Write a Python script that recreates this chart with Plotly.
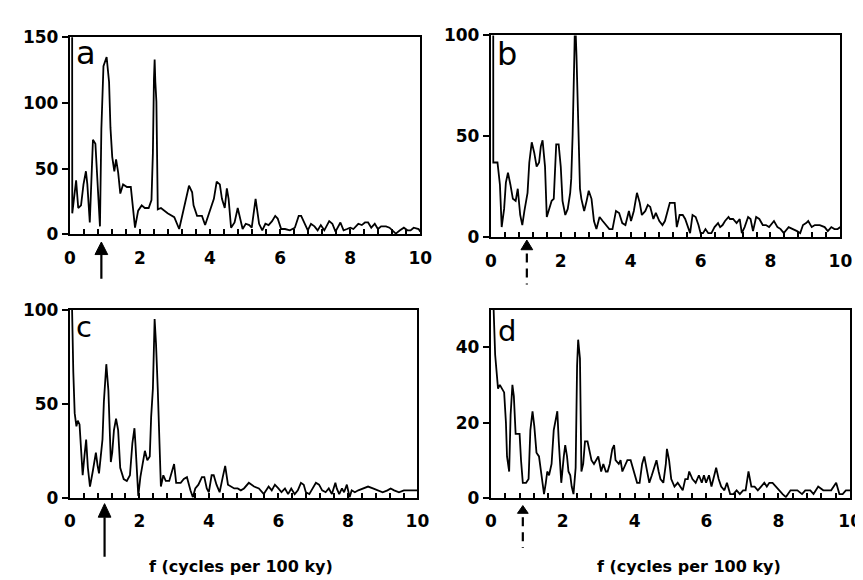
import plotly.graph_objects as go

W, H = 863, 580

# ---------------- data ----------------
f_a = [0, 0.07, 0.18, 0.24, 0.32, 0.39, 0.46, 0.5, 0.57, 0.62, 0.66, 0.73, 0.78, 0.86, 0.9, 0.96, 1.05, 1.12, 1.16, 1.21,
       1.27, 1.32, 1.38, 1.44, 1.52, 1.63, 1.74, 1.86, 1.95, 2.05, 2.14, 2.25, 2.33, 2.37, 2.4, 2.42, 2.44, 2.47, 2.51, 2.6,
       2.79, 2.98, 3.12, 3.26, 3.4, 3.49, 3.53, 3.63, 3.77, 3.86, 4.0, 4.11, 4.19, 4.28, 4.34, 4.42, 4.48, 4.53, 4.6, 4.7,
       4.79, 4.88, 4.93, 5.02, 5.12, 5.19, 5.3, 5.4, 5.49, 5.58, 5.67, 5.77, 5.86, 5.93, 6.03, 6.14, 6.28, 6.42, 6.53, 6.6,
       6.7, 6.79, 6.88, 6.98, 7.07, 7.16, 7.26, 7.4, 7.49, 7.58, 7.72, 7.81, 7.91, 8.0, 8.09, 8.23, 8.33, 8.42, 8.51, 8.6,
       8.7, 8.79, 8.88, 9.02, 9.12, 9.21, 9.3, 9.42, 9.53, 9.63, 9.72, 9.81, 9.95, 10]
p_a = [3000, 16, 41, 20, 22, 38, 48, 38, 9, 50, 72, 69, 46, 6, 80, 128, 135, 116, 81, 59,
       48, 57, 47, 31, 38, 36, 36, 5, 18, 22, 20, 20, 26, 62, 118, 133, 116, 101, 19, 20,
       16, 13, 4, 20, 37, 32, 22, 14, 14, 7, 18, 27, 40, 38, 27, 20, 35, 27, 5, 9,
       20, 8, 4, 8, 7, 5, 27, 8, 3, 8, 7, 10, 14, 12, 4, 4, 3, 5, 14, 14,
       8, 3, 8, 6, 3, 7, 3, 10, 8, 2, 9, 3, 4, 5, 4, 8, 7, 9, 9, 5,
       8, 4, 6, 6, 5, 3, 0.5, 3, 5, 3, 3, 5, 4, 2]

f_b = [0, 0.07, 0.19, 0.26, 0.31, 0.38, 0.43, 0.49, 0.56, 0.63, 0.71, 0.77, 0.84, 0.9, 0.96, 1.05, 1.1, 1.17, 1.24, 1.31,
       1.38, 1.43, 1.48, 1.55, 1.6, 1.66, 1.74, 1.8, 1.87, 1.94, 2.0, 2.05, 2.13, 2.2, 2.27, 2.3, 2.34, 2.39, 2.41, 2.45,
       2.5, 2.55, 2.59, 2.67, 2.74, 2.8, 2.88, 2.95, 3.02, 3.11, 3.2, 3.3, 3.39, 3.48, 3.58, 3.67, 3.76, 3.85, 3.95, 4.01,
       4.09, 4.18, 4.26, 4.32, 4.42, 4.49, 4.56, 4.65, 4.72, 4.82, 4.91, 4.98, 5.12, 5.26, 5.32, 5.4, 5.49, 5.56, 5.63, 5.7,
       5.77, 5.86, 5.94, 6.0, 6.07, 6.14, 6.22, 6.31, 6.4, 6.5, 6.56, 6.63, 6.7, 6.8, 6.84, 6.93, 7.03, 7.12, 7.18, 7.26,
       7.36, 7.43, 7.5, 7.59, 7.68, 7.78, 7.87, 7.96, 8.1, 8.2, 8.29, 8.38, 8.52, 8.66, 8.76, 8.85, 8.93, 9.02, 9.08, 9.18,
       9.27, 9.41, 9.55, 9.64, 9.74, 9.83, 9.92, 10]
p_b = [3000, 37, 37, 26, 5, 14, 27, 32, 26, 19, 18, 24, 11, 6, 13, 22, 37, 47, 42, 35,
       37, 45, 48, 35, 10, 13, 18, 19, 46, 46, 35, 18, 11, 14, 22, 29, 51, 91, 110, 90,
       54, 24, 19, 13, 18, 23, 19, 8, 4, 10, 8, 6, 4, 4, 13, 12, 7, 6, 13, 8,
       13, 22, 17, 11, 13, 16, 15, 9, 12, 8, 6, 8, 17, 17, 5, 11, 11, 9, 5, 2,
       11, 10, 6, 2, 2, 4, 2, 2, 5, 7, 5, 6, 8, 10, 9, 9, 7, 9, 2, 5,
       10, 9, 3, 10, 9, 6, 6, 5, 8, 5, 4, 2, 5, 4, 3, 2, 6, 7, 8, 5,
       6, 6, 5, 3, 5, 4, 4, 5]

f_c = [0, 0.06, 0.1, 0.14, 0.19, 0.23, 0.28, 0.33, 0.37, 0.42, 0.47, 0.52, 0.58, 0.66, 0.7, 0.75, 0.8, 0.84, 0.89, 0.94,
       0.98, 1.05, 1.11, 1.14, 1.18, 1.22, 1.27, 1.33, 1.39, 1.45, 1.55, 1.64, 1.73, 1.8, 1.86, 1.89, 1.97, 2.03, 2.09, 2.16,
       2.23, 2.3, 2.34, 2.39, 2.44, 2.48, 2.53, 2.58, 2.62, 2.69, 2.76, 2.86, 2.93, 3.0, 3.06, 3.19, 3.28, 3.37, 3.47, 3.54,
       3.61, 3.7, 3.8, 3.87, 3.94, 4.0, 4.08, 4.14, 4.22, 4.31, 4.4, 4.47, 4.55, 4.64, 4.73, 4.83, 4.92, 5.01, 5.15, 5.3,
       5.44, 5.58, 5.72, 5.81, 5.9, 6.0, 6.09, 6.19, 6.28, 6.37, 6.47, 6.56, 6.65, 6.73, 6.79, 6.89, 6.98, 7.08, 7.17, 7.26,
       7.36, 7.45, 7.54, 7.64, 7.68, 7.75, 7.83, 7.89, 7.97, 8.05, 8.11, 8.2, 8.3, 8.44, 8.58, 8.72, 8.86, 9.0, 9.14, 9.23,
       9.33, 9.47, 9.61, 9.75, 9.89, 10]
p_c = [3000, 105, 67, 45, 38, 41, 39, 24, 12, 22, 31, 16, 6, 14, 19, 24, 17, 13, 22, 31,
       51, 71, 57, 38, 19, 24, 36, 42, 36, 16, 10, 9, 12, 29, 37, 28, 1, 11, 17, 25,
       20, 22, 43, 58, 95, 82, 58, 24, 6, 12, 9, 9, 13, 18, 8, 8, 10, 11, 4, 0.3,
       5, 7, 11, 11, 5, 3, 12, 12, 7, 3, 11, 17, 7, 6, 5, 5, 4, 5, 8, 6,
       5, 2, 6, 4, 7, 5, 3, 5, 2, 5, 2, 4, 8, 7, 3, 2, 5, 8, 7, 4,
       3, 5, 2, 8, 5, 2, 5, 3, 7, 0.3, 4, 3, 4, 5, 6, 5, 4, 3, 4, 5,
       4, 3, 4, 4, 4, 4]

f_d = [0, 0.06, 0.12, 0.16, 0.2, 0.25, 0.3, 0.37, 0.42, 0.45, 0.51, 0.55, 0.6, 0.64, 0.69, 0.75, 0.8, 0.84, 0.89, 0.98,
       1.05, 1.1, 1.16, 1.21, 1.27, 1.34, 1.42, 1.48, 1.53, 1.57, 1.62, 1.69, 1.75, 1.82, 1.85, 1.89, 1.96, 2.03, 2.07, 2.12,
       2.16, 2.21, 2.25, 2.3, 2.32, 2.36, 2.4, 2.43, 2.48, 2.52, 2.57, 2.62, 2.69, 2.75, 2.8, 2.87, 2.93, 2.99, 3.07, 3.13,
       3.2, 3.25, 3.31, 3.38, 3.43, 3.47, 3.56, 3.61, 3.66, 3.71, 3.8, 3.89, 3.98, 4.07, 4.14, 4.21, 4.27, 4.34, 4.41, 4.48,
       4.54, 4.61, 4.67, 4.72, 4.8, 4.87, 4.9, 4.96, 5.02, 5.11, 5.2, 5.27, 5.34, 5.41, 5.48, 5.52, 5.61, 5.7, 5.79, 5.87,
       5.93, 5.99, 6.07, 6.14, 6.2, 6.27, 6.34, 6.41, 6.5, 6.57, 6.66, 6.75, 6.84, 6.93, 7.02, 7.09, 7.17, 7.25, 7.34, 7.43,
       7.52, 7.61, 7.68, 7.75, 7.84, 7.93, 8.02, 8.12, 8.21, 8.34, 8.43, 8.53, 8.66, 8.75, 8.89, 8.98, 9.11, 9.25, 9.38, 9.47,
       9.61, 9.7, 9.79, 9.88, 10]
p_d = [3000, 55, 38, 33, 29, 30, 29, 28, 20, 11, 7, 22, 30, 27, 17, 17, 17, 10, 4, 4,
       5, 18, 23, 19, 12, 11, 5, 1, 4, 7, 6, 9, 18, 21, 23, 15, 4, 11, 14, 11,
       7, 6, 3, 1, 3, 8, 35, 42, 37, 7, 9, 15, 15, 12, 10, 9, 10, 11, 7, 9,
       7, 7, 9, 13, 14, 10, 9, 10, 7, 8, 10, 10, 7, 4, 4, 9, 11, 7, 4, 6,
       8, 10, 7, 5, 4, 9, 13, 10, 5, 3, 4, 3, 2, 5, 5, 7, 5, 4, 6, 4,
       6, 4, 6, 3, 5, 8, 5, 3, 2, 4, 1, 1, 2, 1, 2, 2, 7, 3, 3, 2,
       3, 4, 3, 4, 4, 3, 2, 1, 0.2, 2, 2, 2, 1, 2, 2, 1, 3, 2, 2, 2,
       4, 1, 1, 2, 2]

panel_letters = ["a", "b", "c", "d"]
y_max = [150, 100, 100, 50]
y_step = [50, 50, 50, 20]
x_tick_step = 2
x_minor_step = 0.4
arrow_f = [0.9, 1.03, 1.0, 0.89]          # frequency marked by arrows
arrow_dashed = [False, True, False, True]
x_title = "f (cycles per 100 ky)"

# ---------------- layout geometry (pixels) ----------------
boxes = [(57, 415, 20, 224), (487, 844, 18, 227), (57, 412, 302, 497), (487, 854, 302, 497)]
letter_pos = [(61, 14, 32), (491, 16, 32), (61, 300, 29), (492, 304, 29)]
# arrow: tip_y, head_base_y, tail_y, half width
arrow_geom = [(232, 245, 270, 6.5), (230, 240, 276, 6.0), (503, 517, 558, 6.5), (505, 513, 549, 5.5)]
title_pos = [(232, 568), (689, 568)]

def px_x(p):
    return p / W

def px_y(p):
    return 1 - p / H

fig = go.Figure()
series = [(f_a, p_a), (f_b, p_b), (f_c, p_c), (f_d, p_d)]
tick_font = dict(family="DejaVu Sans", size=17, color="black", weight="bold")

layout = dict(width=W, height=H, margin=dict(l=0, r=0, t=0, b=0),
              paper_bgcolor="white", plot_bgcolor="white", showlegend=False)
shapes = []
annotations = []

for i, ((fx, py), (l, r, t, b)) in enumerate(zip(series, boxes)):
    n = "" if i == 0 else str(i + 1)
    fig.add_trace(go.Scatter(x=fx, y=py, mode="lines", line=dict(color="black", width=1.8),
                             xaxis="x" + n, yaxis="y" + n, hoverinfo="skip"))
    layout["xaxis" + n] = dict(
        domain=[px_x(l), px_x(r)], range=[0, 10], anchor="y" + n,
        tick0=0, dtick=x_tick_step, ticks="inside", ticklen=5, tickwidth=1.5, tickcolor="black",
        minor=dict(tick0=0, dtick=x_minor_step, ticks="inside", ticklen=5, tickwidth=1.5,
                   tickcolor="black", showgrid=False),
        showline=True, linecolor="black", linewidth=2, mirror=True,
        showgrid=False, zeroline=False, tickfont=tick_font, ticklabelstandoff=7)
    layout["yaxis" + n] = dict(
        domain=[px_y(b), px_y(t)], range=[0, y_max[i]], anchor="x" + n,
        tick0=0, dtick=y_step[i], ticks="outside", ticklen=6, tickwidth=1.5, tickcolor="black",
        showline=True, linecolor="black", linewidth=2, mirror=True,
        showgrid=False, zeroline=False, tickfont=tick_font)

    lx, ly, ls = letter_pos[i]
    annotations.append(dict(text=panel_letters[i], xref="paper", yref="paper",
                            x=px_x(lx), y=px_y(ly), xanchor="left", yanchor="top",
                            showarrow=False, font=dict(family="DejaVu Sans", size=ls, color="black")))

    # arrow marking a frequency
    tip, base, tail, hw = arrow_geom[i]
    ppu = (r - l) / 10.0
    fa = arrow_f[i]
    xr = "x" + n
    shapes.append(dict(type="path", xref=xr, yref="paper",
                       path=f"M {fa - hw / ppu},{px_y(base)} L {fa + hw / ppu},{px_y(base)} L {fa},{px_y(tip)} Z",
                       fillcolor="black", line=dict(color="black", width=1)))
    shapes.append(dict(type="line", xref=xr, yref="paper", x0=fa, x1=fa,
                       y0=px_y(base + (4 if arrow_dashed[i] else 0)), y1=px_y(tail),
                       line=dict(color="black", width=2.2, dash="9px,6px" if arrow_dashed[i] else "solid")))

for (tx, ty) in title_pos:
    annotations.append(dict(text=x_title, xref="paper", yref="paper", x=px_x(tx), y=px_y(ty),
                            xanchor="center", yanchor="middle", showarrow=False,
                            font=dict(family="DejaVu Sans", size=16, color="black", weight="bold")))

layout["shapes"] = shapes
layout["annotations"] = annotations
fig.update_layout(**layout)
fig.write_html("out.html")
